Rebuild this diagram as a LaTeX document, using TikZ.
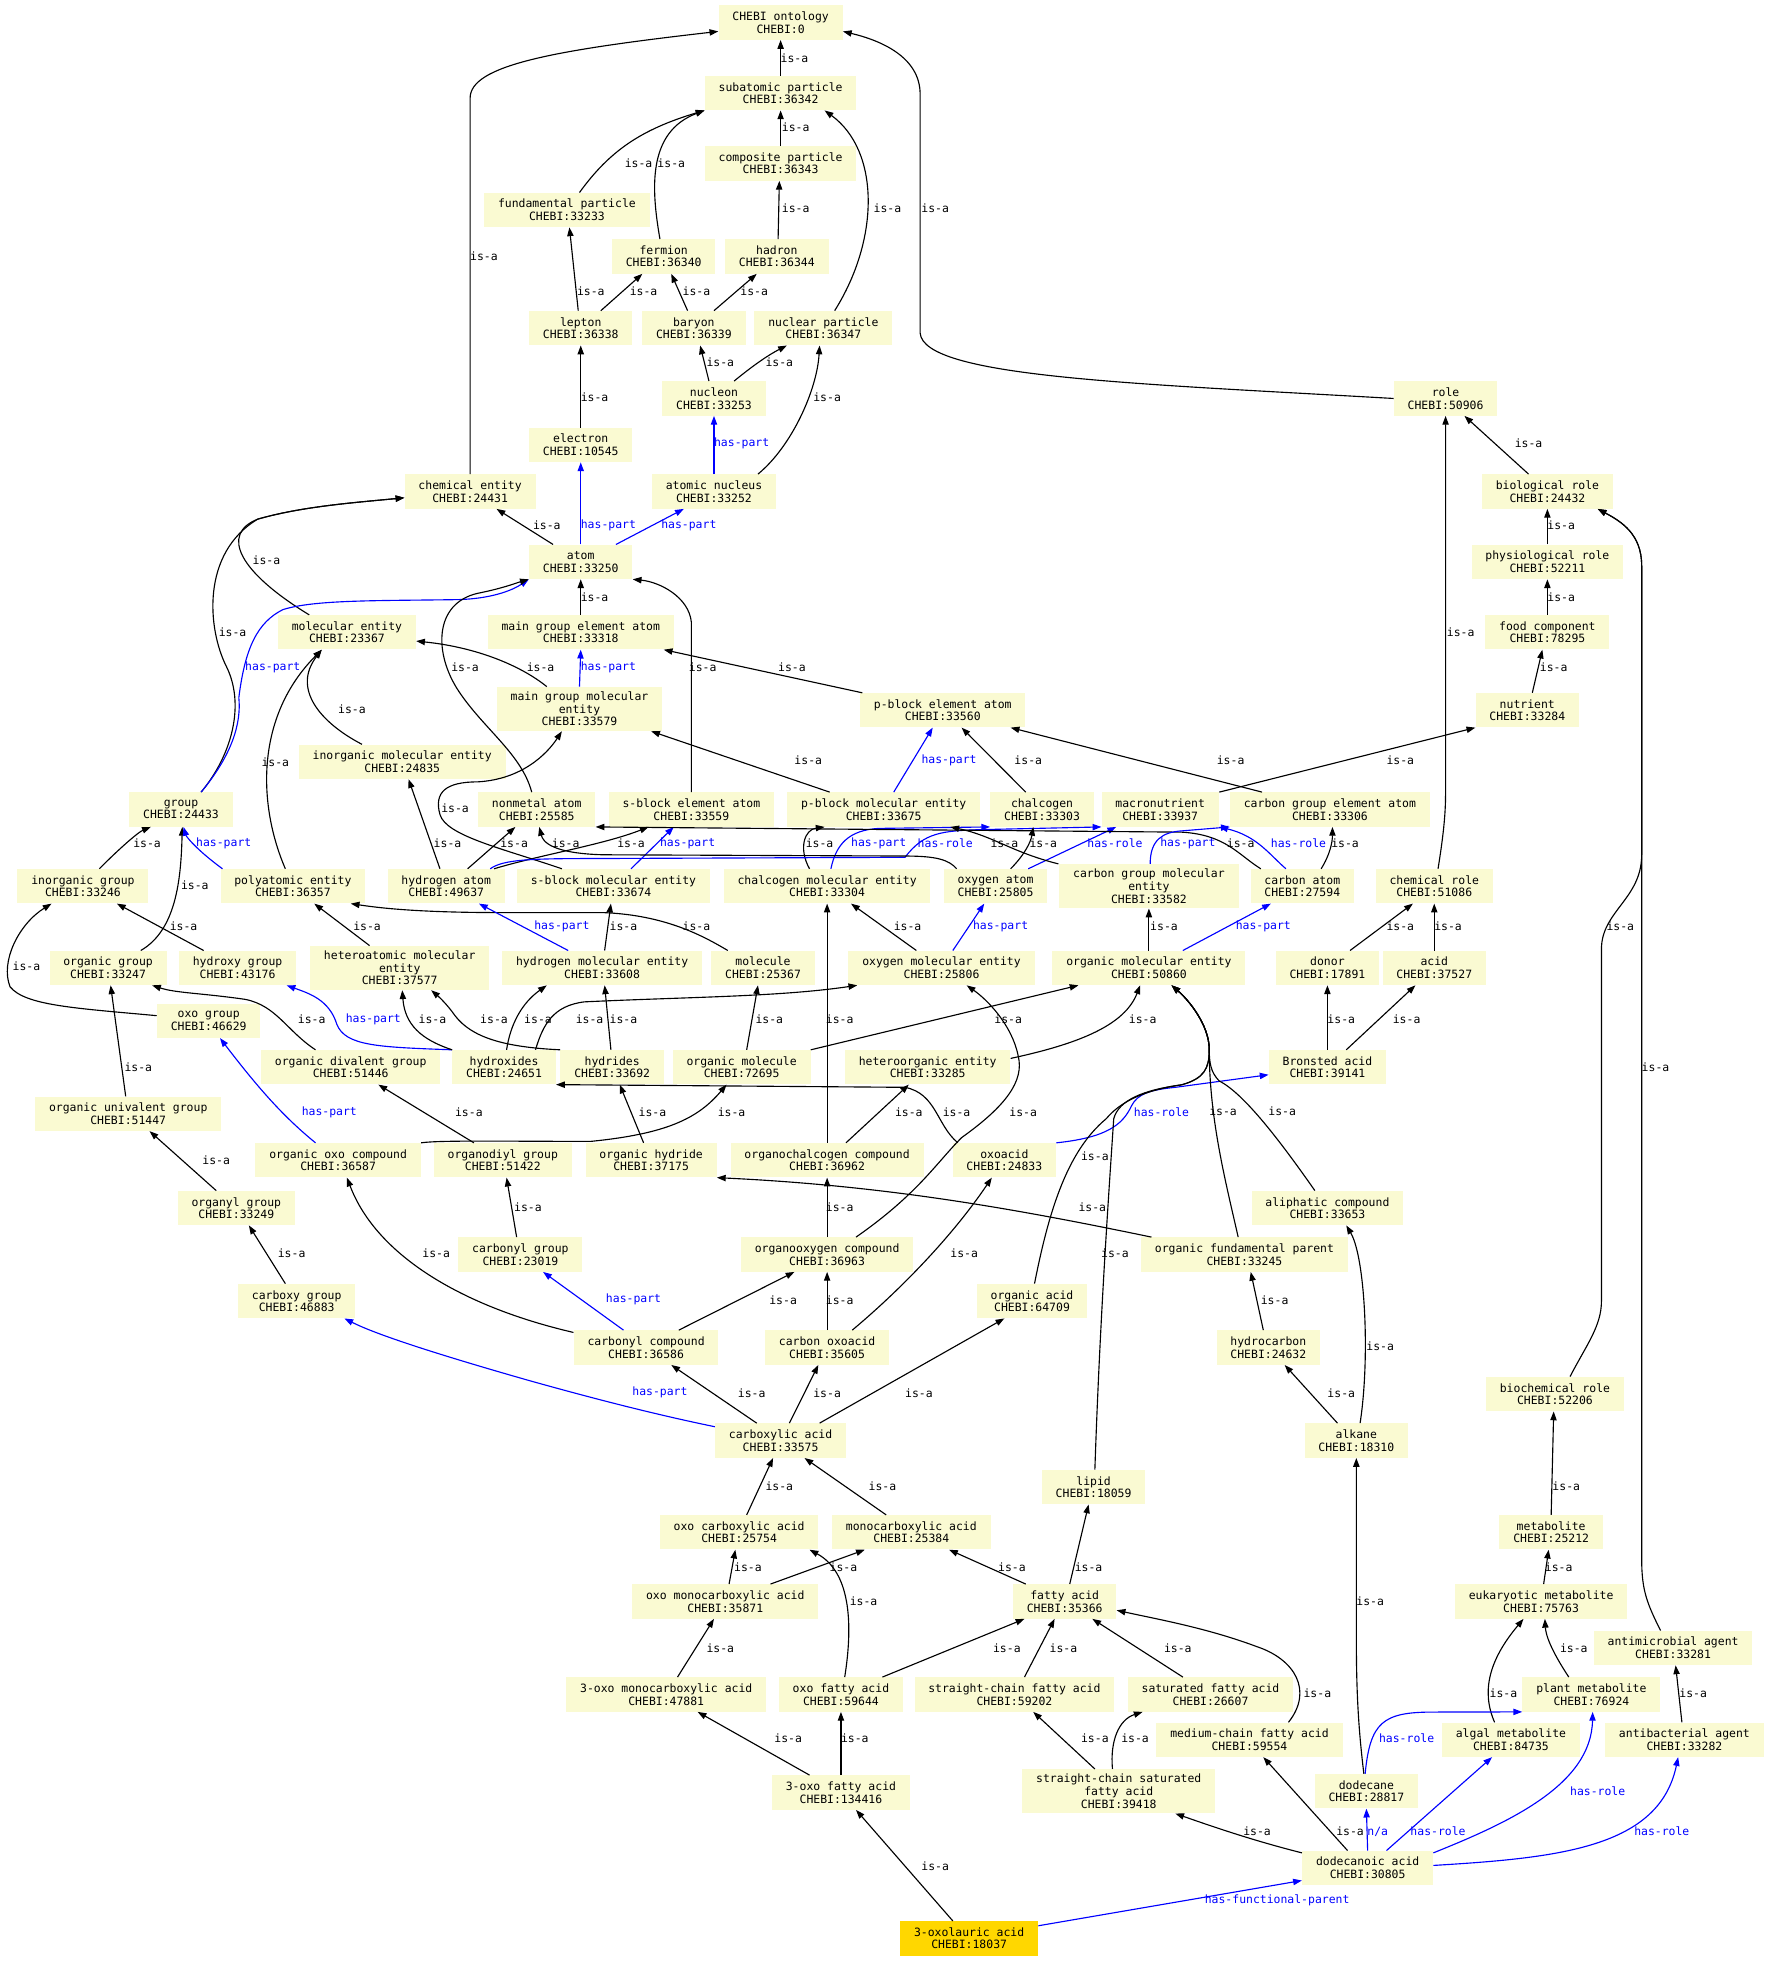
\documentclass[tikz,border=0pt]{standalone}
\usepackage{fontspec}
\setmonofont{DejaVu Sans Mono}
\usetikzlibrary{arrows.meta}
\definecolor{entfill}{HTML}{FAFAD2}
\definecolor{goldfill}{HTML}{FFD700}
\begin{document}
\begin{tikzpicture}[x=1pt,y=-1pt,font=\ttfamily\fontsize{9.1}{10}\selectfont,
 ent/.style={fill=entfill,align=center,inner xsep=11pt,inner ysep=4pt,minimum height=27.3pt},
 isa/.style={draw=black,line width=0.9pt,-{Triangle[length=7pt,width=5pt]}},
 haspart/.style={isa,draw=blue},
 lab/.style={inner sep=0pt},
 blab/.style={inner sep=0pt,text=blue}]
\useasboundingbox (0,0) rectangle (1414,1568);
% particles
\node[ent] (ont) at (621,18) {CHEBI ontology\\CHEBI:0};
\node[ent] (subat) at (621,74) {subatomic particle\\CHEBI:36342};
\node[ent] (compo) at (621,130) {composite particle\\CHEBI:36343};
\node[ent] (fund) at (451,167) {fundamental particle\\CHEBI:33233};
\node[ent] (fermion) at (528,204) {fermion\\CHEBI:36340};
\node[ent] (hadron) at (618,204) {hadron\\CHEBI:36344};
\node[ent] (lepton) at (462,261) {lepton\\CHEBI:36338};
\node[ent] (baryon) at (552,261) {baryon\\CHEBI:36339};
\node[ent] (nucpart) at (655,261) {nuclear particle\\CHEBI:36347};
\node[ent] (nucleon) at (568,317) {nucleon\\CHEBI:33253};
\node[ent] (electron) at (462,354) {electron\\CHEBI:10545};
\node[ent] (nucleus) at (568,391) {atomic nucleus\\CHEBI:33252};
% roles
\node[ent] (role) at (1150,317) {role\\CHEBI:50906};
\node[ent] (biorole) at (1231,391) {biological role\\CHEBI:24432};
\node[ent] (physrole) at (1231,447) {physiological role\\CHEBI:52211};
\node[ent] (food) at (1231,503) {food component\\CHEBI:78295};
\node[ent] (nutrient) at (1215,565) {nutrient\\CHEBI:33284};
\node[ent] (chemrole) at (1141,705) {chemical role\\CHEBI:51086};
\node[ent] (donor) at (1056,770) {donor\\CHEBI:17891};
\node[ent] (acid) at (1141,770) {acid\\CHEBI:37527};
\node[ent] (bronsted) at (1056,849) {Bronsted acid\\CHEBI:39141};
\node[ent] (biochem) at (1237,1109) {biochemical role\\CHEBI:52206};
\node[ent] (metabolite) at (1234,1219) {metabolite\\CHEBI:25212};
\node[ent] (eukmet) at (1226,1274) {eukaryotic metabolite\\CHEBI:75763};
\node[ent] (antimicro) at (1331,1311) {antimicrobial agent\\CHEBI:33281};
\node[ent] (plantmet) at (1266,1348) {plant metabolite\\CHEBI:76924};
\node[ent] (algal) at (1202,1384) {algal metabolite\\CHEBI:84735};
\node[ent] (antibac) at (1340,1384) {antibacterial agent\\CHEBI:33282};
% entities and atoms
\node[ent] (chement) at (374,391) {chemical entity\\CHEBI:24431};
\node[ent] (atom) at (462,447) {atom\\CHEBI:33250};
\node[ent] (molent) at (276,503) {molecular entity\\CHEBI:23367};
\node[ent] (mgea) at (462,503) {main group element atom\\CHEBI:33318};
\node[ent] (mgme) at (461,564) {main group molecular\\entity\\CHEBI:33579};
\node[ent] (pbea) at (750,565) {p-block element atom\\CHEBI:33560};
\node[ent] (inorgme) at (320,606) {inorganic molecular entity\\CHEBI:24835};
\node[ent] (group) at (144,644) {group\\CHEBI:24433};
\node[ent] (nonmetal) at (427,644) {nonmetal atom\\CHEBI:25585};
\node[ent] (sbea) at (550,644) {s-block element atom\\CHEBI:33559};
\node[ent] (pbme) at (703,644) {p-block molecular entity\\CHEBI:33675};
\node[ent] (chalcogen) at (829,644) {chalcogen\\CHEBI:33303};
\node[ent] (macro) at (923,644) {macronutrient\\CHEBI:33937};
\node[ent] (cgea) at (1058,644) {carbon group element atom\\CHEBI:33306};
\node[ent] (inorggrp) at (66,705) {inorganic group\\CHEBI:33246};
\node[ent] (polyat) at (233,705) {polyatomic entity\\CHEBI:36357};
\node[ent] (hatom) at (355,705) {hydrogen atom\\CHEBI:49637};
\node[ent] (sbme) at (488,705) {s-block molecular entity\\CHEBI:33674};
\node[ent] (chme) at (658,705) {chalcogen molecular entity\\CHEBI:33304};
\node[ent] (oatom) at (792,705) {oxygen atom\\CHEBI:25805};
\node[ent] (cgme) at (914,705) {carbon group molecular\\entity\\CHEBI:33582};
\node[ent] (catom) at (1036,705) {carbon atom\\CHEBI:27594};
\node[ent] (orggrp) at (86,770) {organic group\\CHEBI:33247};
\node[ent] (hydroxy) at (189,770) {hydroxy group\\CHEBI:43176};
\node[ent] (hetme) at (318,770) {heteroatomic molecular\\entity\\CHEBI:37577};
\node[ent] (hme) at (479,770) {hydrogen molecular entity\\CHEBI:33608};
\node[ent] (molecule) at (607,770) {molecule\\CHEBI:25367};
\node[ent] (ome) at (749,770) {oxygen molecular entity\\CHEBI:25806};
\node[ent] (orgme) at (914,770) {organic molecular entity\\CHEBI:50860};
\node[ent] (oxogrp) at (166,812) {oxo group\\CHEBI:46629};
\node[ent] (orgdiv) at (279,849) {organic divalent group\\CHEBI:51446};
\node[ent] (hydroxides) at (401,849) {hydroxides\\CHEBI:24651};
\node[ent] (hydrides) at (487,849) {hydrides\\CHEBI:33692};
\node[ent] (orgmol) at (590,849) {organic molecule\\CHEBI:72695};
\node[ent] (hetorg) at (738,849) {heteroorganic entity\\CHEBI:33285};
\node[ent] (orguni) at (102,886) {organic univalent group\\CHEBI:51447};
\node[ent] (orgoxo) at (269,923) {organic oxo compound\\CHEBI:36587};
\node[ent] (orgdiyl) at (400,923) {organodiyl group\\CHEBI:51422};
\node[ent] (orghyd) at (518,923) {organic hydride\\CHEBI:37175};
\node[ent] (orgchal) at (658,923) {organochalcogen compound\\CHEBI:36962};
\node[ent] (oxoacid) at (799,923) {oxoacid\\CHEBI:24833};
\node[ent] (organyl) at (188,961) {organyl group\\CHEBI:33249};
\node[ent] (aliph) at (1056,961) {aliphatic compound\\CHEBI:33653};
\node[ent] (carbonylgrp) at (414,998) {carbonyl group\\CHEBI:23019};
\node[ent] (orgoxy) at (658,998) {organooxygen compound\\CHEBI:36963};
\node[ent] (ofp) at (990,998) {organic fundamental parent\\CHEBI:33245};
\node[ent] (carboxygrp) at (236,1035) {carboxy group\\CHEBI:46883};
\node[ent] (orgacid) at (821,1035) {organic acid\\CHEBI:64709};
\node[ent] (carbonylcmp) at (514,1072) {carbonyl compound\\CHEBI:36586};
\node[ent] (coxo) at (658,1072) {carbon oxoacid\\CHEBI:35605};
\node[ent] (hydrocarbon) at (1009,1072) {hydrocarbon\\CHEBI:24632};
\node[ent] (carboxylic) at (621,1146) {carboxylic acid\\CHEBI:33575};
\node[ent] (alkane) at (1079,1146) {alkane\\CHEBI:18310};
% acids
\node[ent] (lipid) at (870,1183) {lipid\\CHEBI:18059};
\node[ent] (oxocarb) at (588,1219) {oxo carboxylic acid\\CHEBI:25754};
\node[ent] (monocarb) at (725,1219) {monocarboxylic acid\\CHEBI:25384};
\node[ent] (oxomono) at (577,1274) {oxo monocarboxylic acid\\CHEBI:35871};
\node[ent] (fatty) at (847,1274) {fatty acid\\CHEBI:35366};
\node[ent] (threeoxomono) at (530,1348) {3-oxo monocarboxylic acid\\CHEBI:47881};
\node[ent] (oxofatty) at (669,1348) {oxo fatty acid\\CHEBI:59644};
\node[ent] (scfa) at (807,1348) {straight-chain fatty acid\\CHEBI:59202};
\node[ent] (satfa) at (963,1348) {saturated fatty acid\\CHEBI:26607};
\node[ent] (mcfa) at (994,1384) {medium-chain fatty acid\\CHEBI:59554};
\node[ent] (threeoxofa) at (669,1426) {3-oxo fatty acid\\CHEBI:134416};
\node[ent] (scsfa) at (890,1425) {straight-chain saturated\\fatty acid\\CHEBI:39418};
\node[ent] (dodecane) at (1087,1425) {dodecane\\CHEBI:28817};
\node[ent] (dodecanoic) at (1088,1486) {dodecanoic acid\\CHEBI:30805};
\node[ent,fill=goldfill] (oxolauric) at (771,1542) {3-oxolauric acid\\CHEBI:18037};
% particle links
\draw[isa] (subat.north) -- (ont.south) node[lab] at (632,46) {is-a};
\draw[isa] ([xshift=10pt]fund.north) .. controls (485,120) and (510,103) .. (subat.south west) node[lab] at (508,130) {is-a};
\draw[isa] ([xshift=-3pt]fermion.north) .. controls (518,150) and (515,105) .. (subat.south west) node[lab] at (534,130) {is-a};
\draw[isa] (compo.north) -- (subat.south) node[lab] at (633,101) {is-a};
\draw[isa] ([xshift=1pt]hadron.north) -- ([xshift=-1pt]compo.south) node[lab] at (633,166) {is-a};
\draw[isa] ([xshift=9pt]nucpart.north) .. controls (700,190) and (700,120) .. ([xshift=35pt]subat.south) node[lab] at (706,166) {is-a};
\draw[isa] (role.west) .. controls (900,305) and (735,300) .. (732,265) -- (732,75) .. controls (732,45) and (700,32) .. ([yshift=-7pt]ont.east) node[lab] at (744,166) {is-a};
\draw[isa] (chement.north) -- (374,78) .. controls (374,52) and (440,40) .. ([yshift=-7pt]ont.west) node[lab] at (385,204) {is-a};
\draw[isa] ([xshift=-2pt]lepton.north) -- ([xshift=2pt]fund.south) node[lab] at (470,232) {is-a};
\draw[isa] ([xshift=16pt]lepton.north) -- ([xshift=-17pt]fermion.south) node[lab] at (512,232) {is-a};
\draw[isa] ([xshift=-5pt]baryon.north) -- ([xshift=6pt]fermion.south) node[lab] at (554,232) {is-a};
\draw[isa] ([xshift=16pt]baryon.north) -- ([xshift=-16pt]hadron.south) node[lab] at (600,232) {is-a};
\draw[isa] ([xshift=-4pt]nucleon.north) -- ([xshift=5pt]baryon.south) node[lab] at (573,288) {is-a};
\draw[isa] ([xshift=16pt]nucleon.north) .. controls (600,290) and (612,282) .. ([xshift=-29pt]nucpart.south) node[lab] at (620,288) {is-a};
\draw[isa] (electron.north) -- (lepton.south) node[lab] at (473,316) {is-a};
\draw[haspart] (nucleus.north) -- (nucleon.south) node[blab] at (590,353) {has-part};
\draw[isa] ([xshift=35pt]nucleus.north) .. controls (630,355) and (650,310) .. ([xshift=-3pt]nucpart.south) node[lab] at (658,316) {is-a};
\draw[haspart] (atom.north) -- (electron.south) node[blab] at (484,418) {has-part};
\draw[haspart] ([xshift=28pt]atom.north) -- ([xshift=-24pt]nucleus.south) node[blab] at (548,418) {has-part};
\draw[isa] ([xshift=-22pt]atom.north) -- ([xshift=21pt]chement.south) node[lab] at (435,418) {is-a};
% role links
\draw[isa] ([xshift=-15pt]biorole.north) -- ([xshift=15pt]role.south) node[lab] at (1216,353) {is-a};
\draw[isa] (physrole.north) -- (biorole.south) node[lab] at (1242,418) {is-a};
\draw[isa] (food.north) -- (physrole.south) node[lab] at (1242,475) {is-a};
\draw[isa] ([xshift=4pt]nutrient.north) -- ([xshift=-4pt]food.south) node[lab] at (1236,531) {is-a};
\draw[isa] ([xshift=3pt]chemrole.north) .. controls (1149,660) and (1150,645) .. (1150,630) -- (role.south) node[lab] at (1162,503) {is-a};
\draw[isa] ([xshift=18pt]donor.north) -- ([xshift=-17pt]chemrole.south) node[lab] at (1114,737) {is-a};
\draw[isa] (acid.north) -- (chemrole.south) node[lab] at (1152,737) {is-a};
\draw[isa] (bronsted.north) -- (donor.south) node[lab] at (1067,811) {is-a};
\draw[isa] ([xshift=15pt]bronsted.north) -- ([xshift=-15pt]acid.south) node[lab] at (1119,811) {is-a};
% atom links
\draw[isa] (mgea.north) -- (atom.south) node[lab] at (473,475) {is-a};
\draw[isa] ([xshift=-30pt]molent.north) .. controls (190,455) and (175,425) .. (205,413) .. controls (240,403) and (280,400) .. ([yshift=-5pt]chement.west) node[lab] at (212,446) {is-a};
\draw[isa] ([xshift=16pt]group.north) .. controls (185,600) and (195,560) .. (180,530) .. controls (165,500) and (160,440) .. (205,413) .. controls (240,403) and (280,400) .. ([yshift=-5pt]chement.west) node[lab] at (185,503) {is-a};
\draw[haspart] ([xshift=16pt]group.north) .. controls (185,600) and (192,575) .. (190,555) .. controls (195,515) and (205,495) .. (225,485) .. controls (250,477) and (300,478) .. (365,477) .. controls (395,476) and (410,468) .. (atom.south west) node[blab] at (217,531) {has-part};
\draw[haspart] (mgme.north) -- (mgea.south) node[blab] at (484,531) {has-part};
\draw[isa] ([xshift=-26pt]mgme.north) .. controls (415,530) and (380,515) .. ([yshift=-7pt]molent.east) node[lab] at (430,531) {is-a};
\draw[isa] ([xshift=-64pt]pbea.north) -- ([xshift=66pt]mgea.south) node[lab] at (630,531) {is-a};
\draw[isa] (sbea.north) -- (550,495) .. controls (548,475) and (525,463) .. (atom.south east) node[lab] at (559,531) {is-a};
\draw[isa] ([xshift=-4pt]nonmetal.north) .. controls (415,600) and (385,580) .. (365,550) .. controls (345,520) and (345,480) .. (380,472) .. controls (400,468) and (410,464) .. (atom.south west) node[lab] at (370,531) {is-a};
\draw[isa] ([xshift=-32pt]inorgme.north) .. controls (255,575) and (232,548) .. ([xshift=-20pt]molent.south) node[lab] at (280,564) {is-a};
\draw[isa] ([xshift=-6pt]polyat.north) .. controls (205,640) and (203,570) .. ([xshift=-20pt]molent.south) node[lab] at (219,606) {is-a};
% block links
\draw[isa] ([xshift=-43pt]pbme.north) -- ([xshift=57pt]mgme.south) node[lab] at (643,605) {is-a};
\draw[haspart] ([xshift=8pt]pbme.north) -- ([xshift=-8pt]pbea.south) node[blab] at (755,605) {has-part};
\draw[isa] ([xshift=-13pt]chalcogen.north) -- ([xshift=15pt]pbea.south) node[lab] at (818,605) {is-a};
\draw[isa] ([xshift=-54pt]cgea.north) -- ([xshift=54pt]pbea.south) node[lab] at (979,605) {is-a};
\draw[isa] ([xshift=47pt]macro.north) -- (nutrient.south west) node[lab] at (1114,605) {is-a};
\draw[isa] ([xshift=-5pt]hatom.north) -- ([xshift=5pt]inorgme.south) node[lab] at (356,671) {is-a};
\draw[isa] ([xshift=17pt]hatom.north) -- ([xshift=-17pt]nonmetal.south) node[lab] at (409,671) {is-a};
\draw[isa] ([xshift=38pt]hatom.north) .. controls (430,680) and (480,672) .. ([xshift=-34pt]sbea.south) node[lab] at (502,671) {is-a};
\draw[haspart] ([xshift=14pt]sbme.north) -- ([xshift=-14pt]sbea.south) node[blab] at (547,671) {has-part};
\draw[isa] ([xshift=-41pt]sbme.north) .. controls (400,675) and (355,665) .. (350,648) .. controls (345,630) and (355,622) .. (380,622) .. controls (415,620) and (435,600) .. ([xshift=-14pt]mgme.south) node[lab] at (362,643) {is-a};
\draw[isa] ([xshift=-14pt]chme.north) .. controls (635,675) and (640,660) .. ([xshift=-47pt]pbme.south) node[lab] at (652,671) {is-a};
\draw[haspart] ([xshift=3pt]chme.north) .. controls (665,672) and (675,660) .. (700,659) -- (chalcogen.south west) node[blab] at (699,671) {has-part};
\draw[haspart] ([xshift=35pt]hatom.north) .. controls (400,684) and (420,683) .. (470,683) -- (720,682) .. controls (735,662) and (750,661) .. (780,660) -- (macro.south west) node[blab] at (752,671) {has-role};
\draw[isa] ([xshift=12pt]oatom.north) .. controls (815,680) and (820,670) .. ([xshift=-7pt]chalcogen.south) node[lab] at (830,671) {is-a};
\draw[haspart] ([xshift=26pt]oatom.north) -- ([xshift=-35pt]macro.south) node[blab] at (887,671) {has-role};
\draw[isa] ([xshift=-31pt]oatom.north) .. controls (755,684) and (745,681) .. (720,681) -- (480,680) .. controls (440,679) and (432,670) .. ([xshift=2pt]nonmetal.south) node[lab] at (450,671) {is-a};
\draw[isa] ([xshift=-33pt]catom.north) .. controls (985,680) and (975,664) .. (940,662) -- (nonmetal.south east) node[lab] at (987,671) {is-a};
\draw[isa] ([xshift=-72pt]cgme.north) .. controls (805,678) and (790,665) .. ([xshift=53pt]pbme.south) node[lab] at (799,671) {is-a};
\draw[haspart] ([xshift=-13pt]catom.north) .. controls (1010,680) and (1000,665) .. (macro.south east) node[blab] at (1033,671) {has-role};
\draw[haspart] ([xshift=1pt]cgme.north) .. controls (915,668) and (925,662) .. (940,661) -- (cgea.south west) node[blab] at (945,671) {has-part};
\draw[isa] ([xshift=15pt]catom.north) .. controls (1058,680) and (1060,670) .. ([xshift=2pt]cgea.south) node[lab] at (1070,671) {is-a};
% group links
\draw[isa] ([xshift=26pt]orggrp.north) .. controls (140,740) and (144,700) .. ([xshift=1pt]group.south) node[lab] at (155,704) {is-a};
\draw[isa] ([xshift=13pt]inorggrp.north) .. controls (95,675) and (110,662) .. ([xshift=-24pt]group.south) node[lab] at (117,671) {is-a};
\draw[haspart] ([xshift=-56pt]polyat.north) .. controls (155,675) and (148,665) .. ([xshift=2pt]group.south) node[blab] at (178,671) {has-part};
\draw[isa] ([xshift=-27pt]hydroxy.north) -- ([xshift=27pt]inorggrp.south) node[lab] at (146,737) {is-a};
\draw[isa] ([yshift=4pt]oxogrp.west) .. controls (60,802) and (20,800) .. (8,785) .. controls (0,765) and (15,735) .. ([xshift=-25pt]inorggrp.south) node[lab] at (21,769) {is-a};
\draw[isa] ([xshift=-24pt]hetme.north) -- ([xshift=17pt]polyat.south) node[lab] at (292,737) {is-a};
\draw[isa] ([xshift=-28pt]molecule.north) .. controls (560,745) and (530,728) .. (480,726) -- (400,726) .. controls (330,726) and (300,722) .. ([xshift=46pt]polyat.south) node[lab] at (554,737) {is-a};
\draw[haspart] ([xshift=-27pt]hme.north) -- ([xshift=26pt]hatom.south) node[blab] at (447,737) {has-part};
\draw[isa] ([xshift=2pt]hme.north) -- ([xshift=-2pt]sbme.south) node[lab] at (496,737) {is-a};
\draw[isa] ([xshift=-20pt]ome.north) -- ([xshift=19pt]chme.south) node[lab] at (722,737) {is-a};
\draw[haspart] ([xshift=9pt]ome.north) -- ([xshift=-9pt]oatom.south) node[blab] at (796,737) {has-part};
\draw[isa] (orgme.north) -- (cgme.south) node[lab] at (926,737) {is-a};
\draw[haspart] ([xshift=27pt]orgme.north) -- ([xshift=-25pt]catom.south) node[blab] at (1005,737) {has-part};
\draw[isa] (orgchal.north) -- (chme.south) node[lab] at (668,811) {is-a};
% hydroxides and hydrides
\draw[haspart] (hydroxides.north west) .. controls (300,833) and (275,832) .. (268,815) .. controls (262,795) and (245,790) .. ([xshift=39pt]hydroxy.south) node[blab] at (297,811) {has-part};
\draw[isa] (hydroxides.north west) .. controls (335,827) and (322,815) .. ([xshift=2pt]hetme.south) node[lab] at (344,811) {is-a};
\draw[isa] ([xshift=2pt]hydroxides.north) .. controls (406,815) and (415,798) .. ([xshift=-44pt]hme.south) node[lab] at (428,811) {is-a};
\draw[isa] (hydrides.north west) .. controls (400,833) and (375,825) .. (362,808) .. controls (355,798) and (348,792) .. ([xshift=25pt]hetme.south) node[lab] at (393,811) {is-a};
\draw[isa] ([xshift=25pt]hydroxides.north) .. controls (432,815) and (440,800) .. (465,797) .. controls (550,793) and (620,793) .. ([xshift=-67pt]ome.south) node[lab] at (469,811) {is-a};
\draw[isa] ([xshift=-1pt]hydrides.north) -- ([xshift=2pt]hme.south) node[lab] at (496,811) {is-a};
\draw[isa] ([xshift=4pt]orgmol.north) -- ([xshift=-4pt]molecule.south) node[lab] at (612,811) {is-a};
\draw[isa] (orgmol.north east) -- ([xshift=-56pt]orgme.south) node[lab] at (802,811) {is-a};
\draw[isa] ([yshift=7pt]hetorg.east) .. controls (860,830) and (895,815) .. ([xshift=-7pt]orgme.south) node[lab] at (909,811) {is-a};
% organic groups
\draw[isa] ([xshift=-28pt]orgdiv.north) .. controls (228,820) and (220,800) .. (195,795) .. controls (160,790) and (140,790) .. ([xshift=35pt]orggrp.south) node[lab] at (248,811) {is-a};
\draw[isa] ([xshift=-2pt]orguni.north) -- ([xshift=2pt]orggrp.south) node[lab] at (110,849) {is-a};
\draw[haspart] ([xshift=-18pt]orgoxo.north) .. controls (225,888) and (205,865) .. ([xshift=9pt]oxogrp.south) node[blab] at (262,885) {has-part};
\draw[isa] ([xshift=-23pt]orgdiyl.north) -- ([xshift=22pt]orgdiv.south) node[lab] at (373,885) {is-a};
\draw[isa] (orgoxo.north east) .. controls (350,907) and (400,908) .. (470,908) .. controls (530,902) and (555,890) .. ([xshift=-12pt]orgmol.south) node[lab] at (582,885) {is-a};
\draw[isa] ([xshift=-6pt]orghyd.north) -- ([xshift=6pt]hydrides.south) node[lab] at (519,885) {is-a};
\draw[isa] ([xshift=15pt]orgchal.north) -- ([xshift=-15pt]hetorg.south) node[lab] at (723,885) {is-a};
\draw[isa] ([xshift=-37pt]oxoacid.north) .. controls (745,895) and (745,870) .. (720,865) -- (hydroxides.south east) node[lab] at (761,885) {is-a};
\draw[haspart] (oxoacid.north east) .. controls (880,905) and (893,895) .. (900,880) .. controls (905,870) and (915,867) .. (935,865) -- ([yshift=-6pt]bronsted.west) node[blab] at (924,885) {has-role};
% into organic molecular entity
\draw[isa] ([xshift=2pt]orgacid.north) .. controls (835,960) and (850,915) .. (880,890) .. controls (895,872) and (920,866) .. (940,863) .. controls (958,858) and (962,850) .. (962,835) .. controls (962,815) and (945,795) .. ([xshift=18pt]orgme.south) node[lab] at (871,920) {is-a};
\draw[isa] ([xshift=1pt]lipid.north) .. controls (875,1050) and (882,950) .. (886,890) .. controls (890,875) and (910,867) .. (940,863) .. controls (958,858) and (962,850) .. (962,835) .. controls (962,815) and (945,795) .. ([xshift=18pt]orgme.south) node[lab] at (887,997) {is-a};
\draw[isa] ([xshift=-5pt]ofp.north) .. controls (975,940) and (962,890) .. (962,835) .. controls (962,815) and (945,795) .. ([xshift=18pt]orgme.south) node[lab] at (973,884) {is-a};
\draw[isa] ([xshift=-10pt]aliph.north) .. controls (1020,910) and (990,870) .. (970,860) .. controls (963,853) and (962,845) .. (962,835) .. controls (962,815) and (945,795) .. ([xshift=18pt]orgme.south) node[lab] at (1020,884) {is-a};
\draw[isa] ([xshift=-74pt]ofp.north) .. controls (800,960) and (700,943) .. (orghyd.south east) node[lab] at (869,960) {is-a};
% lower groups and compounds
\draw[isa] ([xshift=-16pt]organyl.north) -- ([xshift=17pt]orguni.south) node[lab] at (172,923) {is-a};
\draw[isa] ([xshift=-3pt]carbonylgrp.north) -- ([xshift=3pt]orgdiyl.south) node[lab] at (420,960) {is-a};
\draw[isa] ([xshift=-9pt]carboxygrp.north) -- ([xshift=10pt]organyl.south) node[lab] at (232,997) {is-a};
\draw[isa] ([yshift=12pt]carbonylcmp.west) .. controls (370,1040) and (300,1000) .. ([xshift=7pt]orgoxo.south) node[lab] at (347,997) {is-a};
\draw[haspart] ([xshift=-18pt]carbonylcmp.north) -- ([xshift=18pt]carbonylgrp.south) node[blab] at (504,1034) {has-part};
\draw[isa] ([xshift=26pt]carbonylcmp.north) -- ([xshift=-26pt]orgoxy.south) node[lab] at (623,1034) {is-a};
\draw[isa] (orgoxy.north) -- (orgchal.south) node[lab] at (668,960) {is-a};
\draw[isa] ([xshift=23pt]orgoxy.north) .. controls (730,950) and (745,925) .. (765,905) .. controls (800,880) and (815,860) .. (810,840) .. controls (805,815) and (785,795) .. ([xshift=20pt]ome.south) node[lab] at (814,885) {is-a};
\draw[isa] (coxo.north) -- (orgoxy.south) node[lab] at (668,1034) {is-a};
\draw[isa] ([xshift=20pt]coxo.north) .. controls (720,1023) and (760,980) .. ([xshift=-10pt]oxoacid.south) node[lab] at (767,997) {is-a};
\draw[isa] ([xshift=-4pt]hydrocarbon.north) -- ([xshift=5pt]ofp.south) node[lab] at (1014,1034) {is-a};
\draw[isa] ([xshift=-15pt]alkane.north) -- ([xshift=13pt]hydrocarbon.south) node[lab] at (1067,1108) {is-a};
\draw[isa] ([xshift=3pt]alkane.north) .. controls (1090,1080) and (1086,1000) .. ([xshift=15pt]aliph.south) node[lab] at (1098,1071) {is-a};
% carboxylic acid
\draw[haspart] ([yshift=11pt]carboxylic.west) .. controls (520,1125) and (470,1112) .. (420,1098) .. controls (350,1078) and (300,1062) .. ([xshift=38pt]carboxygrp.south) node[blab] at (525,1108) {has-part};
\draw[isa] ([xshift=-19pt]carboxylic.north) -- ([xshift=20pt]carbonylcmp.south) node[lab] at (598,1108) {is-a};
\draw[isa] ([xshift=7pt]carboxylic.north) -- ([xshift=-7pt]coxo.south) node[lab] at (658,1108) {is-a};
\draw[isa] ([xshift=31pt]carboxylic.north) -- ([xshift=-22pt]orgacid.south) node[lab] at (731,1108) {is-a};
% right column
\draw[isa] ([xshift=12pt]biochem.north) .. controls (1262,1070) and (1274,1055) .. (1274,1035) -- (1274,755) .. controls (1274,725) and (1306,715) .. (1306,680) -- (1306,450) .. controls (1306,425) and (1290,415) .. ([xshift=40pt]biorole.south) node[lab] at (1289,737) {is-a};
\draw[isa] ([xshift=-10pt]antimicro.north) .. controls (1310,1275) and (1306,1265) .. (1306,1240) -- (1306,450) .. controls (1306,425) and (1290,415) .. ([xshift=40pt]biorole.south) node[lab] at (1317,849) {is-a};
\draw[isa] (metabolite.north) -- ([xshift=-1pt]biochem.south) node[lab] at (1246,1182) {is-a};
\draw[isa] ([xshift=2pt]eukmet.north) -- ([xshift=-2pt]metabolite.south) node[lab] at (1240,1247) {is-a};
\draw[isa] ([xshift=-13pt]algal.north) .. controls (1178,1345) and (1185,1320) .. ([xshift=-14pt]eukmet.south) node[lab] at (1196,1347) {is-a};
\draw[isa] ([xshift=-18pt]plantmet.north) .. controls (1240,1322) and (1230,1305) .. ([xshift=3pt]eukmet.south) node[lab] at (1252,1311) {is-a};
\draw[isa] ([xshift=-2pt]antibac.north) -- ([xshift=2pt]antimicro.south) node[lab] at (1347,1347) {is-a};
% acid hierarchy
\draw[isa] ([xshift=6pt]oxocarb.north) -- ([xshift=-6pt]carboxylic.south) node[lab] at (620,1182) {is-a};
\draw[isa] ([xshift=-20pt]monocarb.north) -- ([xshift=19pt]carboxylic.south) node[lab] at (702,1182) {is-a};
\draw[isa] ([xshift=4pt]fatty.north) -- ([xshift=-4pt]lipid.south) node[lab] at (866,1247) {is-a};
\draw[isa] ([xshift=-31pt]fatty.north) -- ([xshift=30pt]monocarb.south) node[lab] at (805,1247) {is-a};
\draw[isa] ([xshift=3pt]oxomono.north) -- ([xshift=-3pt]oxocarb.south) node[lab] at (595,1247) {is-a};
\draw[isa] ([xshift=36pt]oxomono.north) -- ([xshift=-37pt]monocarb.south) node[lab] at (671,1247) {is-a};
\draw[isa] ([xshift=3pt]oxofatty.north) .. controls (679,1290) and (676,1250) .. ([xshift=56pt]oxocarb.south) node[lab] at (687,1274) {is-a};
\draw[isa] ([xshift=9pt]threeoxomono.north) -- ([xshift=-9pt]oxomono.south) node[lab] at (573,1311) {is-a};
\draw[isa] ([xshift=33pt]oxofatty.north) -- ([xshift=-32pt]fatty.south) node[lab] at (801,1311) {is-a};
\draw[isa] ([xshift=8pt]scfa.north) -- ([xshift=-8pt]fatty.south) node[lab] at (846,1311) {is-a};
\draw[isa] ([xshift=-22pt]satfa.north) -- ([xshift=22pt]fatty.south) node[lab] at (937,1311) {is-a};
\draw[isa] ([xshift=31pt]mcfa.north) .. controls (1045,1345) and (1030,1320) .. (1000,1310) .. controls (960,1295) and (920,1288) .. ([yshift=-7pt]fatty.east) node[lab] at (1048,1347) {is-a};
\draw[isa] ([xshift=-25pt]threeoxofa.north) -- ([xshift=25pt]threeoxomono.south) node[lab] at (627,1383) {is-a};
\draw[isa] (threeoxofa.north) -- (oxofatty.south) node[lab] at (680,1383) {is-a};
\draw[isa] ([xshift=-19pt]scsfa.north) -- ([xshift=15pt]scfa.south) node[lab] at (871,1383) {is-a};
\draw[isa] ([xshift=-5pt]scsfa.north) .. controls (883,1385) and (890,1368) .. ([xshift=-54pt]satfa.south) node[lab] at (903,1383) {is-a};
% dodecanoic acid and 3-oxolauric acid
\draw[isa] ([xshift=-13pt]oxolauric.north) -- ([xshift=12pt]threeoxofa.south) node[lab] at (744,1485) {is-a};
\draw[haspart] ([yshift=10pt]oxolauric.east) -- ([yshift=-10pt]dodecanoic.west) node[blab] at (1016,1512) {has-functional-parent};
\draw[isa] ([yshift=12pt]dodecanoic.west) .. controls (1000,1465) and (970,1455) .. ([xshift=45pt]scsfa.south) node[lab] at (1000,1457) {is-a};
\draw[isa] ([xshift=-16pt]dodecanoic.north) -- ([xshift=11pt]mcfa.south) node[lab] at (1074,1457) {is-a};
\draw[haspart] (dodecanoic.north) -- (dodecane.south) node[blab] at (1096,1457) {n/a};
\draw[isa] ([xshift=-2pt]dodecane.north) .. controls (1080,1370) and (1079,1340) .. (1079,1300) -- (alkane.south) node[lab] at (1090,1274) {is-a};
\draw[haspart] ([xshift=-1pt]dodecane.north) .. controls (1090,1370) and (1100,1362) .. (1140,1362) -- (plantmet.south west) node[blab] at (1119,1383) {has-role};
\draw[haspart] ([xshift=15pt]dodecanoic.north) -- ([xshift=-15pt]algal.south) node[blab] at (1144,1457) {has-role};
\draw[haspart] ([yshift=12pt]dodecanoic.east) .. controls (1200,1450) and (1266,1420) .. ([xshift=1pt]plantmet.south) node[blab] at (1271,1425) {has-role};
\draw[haspart] ([yshift=2pt]dodecanoic.east) .. controls (1240,1478) and (1320,1470) .. ([xshift=-5pt]antibac.south) node[blab] at (1322,1457) {has-role};
\end{tikzpicture}
\end{document}
